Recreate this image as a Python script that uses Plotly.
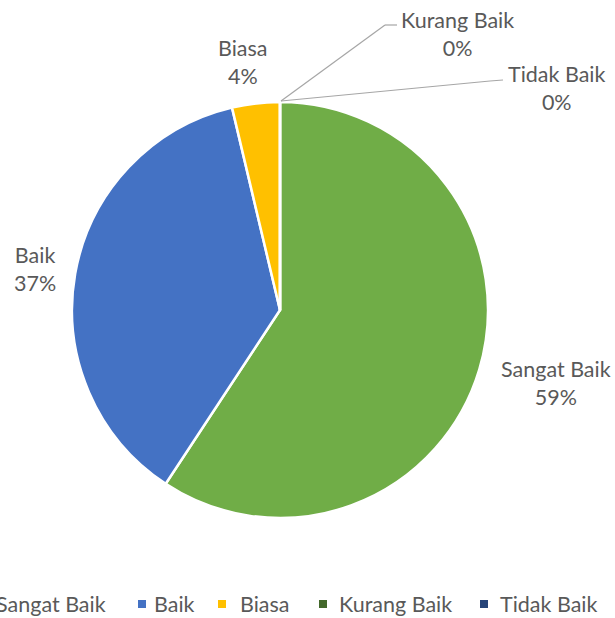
import plotly.graph_objects as go

categories = ["Sangat Baik", "Baik", "Biasa", "Kurang Baik", "Tidak Baik"]
counts = [16, 10, 1, 0, 0]
pct_labels = ["59%", "37%", "4%", "0%", "0%"]
colors = ["#70AD47", "#4472C4", "#FFC000", "#43682B", "#264478"]

W, H = 615, 618
FONT = "Lato, Open Sans, sans-serif"
TXT = "#595959"
FS = 21.5


def px(x):
    return x / W


def py(y):
    return 1 - y / H


fig = go.Figure(
    go.Pie(
        labels=categories,
        values=counts,
        sort=False,
        direction="clockwise",
        rotation=0,
        textinfo="none",
        hoverinfo="label+percent",
        marker=dict(colors=colors, line=dict(color="white", width=2.5)),
        domain=dict(x=[px(72), px(488)], y=[py(518), py(102)]),
        showlegend=False,
    )
)

# data label placement (center x, center y of two-line block)
label_pos = [(556, 383), (35, 269), (243, 62), (457, 34), (557, 88)]
annotations = []
for name, pct, (lx, ly) in zip(categories, pct_labels, label_pos):
    annotations.append(dict(
        x=px(lx), y=py(ly), xref="paper", yref="paper",
        text=f"{name}<br>{pct}", showarrow=False,
        xanchor="center", yanchor="middle", align="center",
        font=dict(family=FONT, size=FS, color=TXT),
    ))

shapes = []
# leader lines for zero-value slices
leaders = [[(281, 101), (385, 25), (397, 25)], [(281, 101), (490, 81), (503, 80)]]
for pts in leaders:
    for (x0, y0), (x1, y1) in zip(pts[:-1], pts[1:]):
        shapes.append(dict(type="line", xref="paper", yref="paper",
                           x0=px(x0), y0=py(y0), x1=px(x1), y1=py(y1),
                           line=dict(color="#A6A6A6", width=1.2)))

# manual legend
leg_sq = [-22, 138, 218, 319, 480]
leg_tx = [-6, 152, 238, 337, 498]
LY = 604
for name, c, sx, tx in zip(categories, colors, leg_sq, leg_tx):
    shapes.append(dict(type="rect", xref="paper", yref="paper",
                       x0=px(sx), x1=px(sx + 8), y0=py(LY + 4), y1=py(LY - 4),
                       fillcolor=c, line=dict(width=0)))
    annotations.append(dict(
        x=px(tx), y=py(LY), xref="paper", yref="paper", text=name,
        showarrow=False, xanchor="left", yanchor="middle",
        font=dict(family=FONT, size=FS, color=TXT),
    ))

fig.update_layout(
    width=W, height=H,
    margin=dict(l=0, r=0, t=0, b=0),
    paper_bgcolor="white", plot_bgcolor="white",
    annotations=annotations, shapes=shapes,
    font=dict(family=FONT, color=TXT),
)

fig.write_html(
    "out.html",
    config={"displayModeBar": False},
    post_script="document.body.style.margin='0';document.body.style.overflow='hidden';",
)
